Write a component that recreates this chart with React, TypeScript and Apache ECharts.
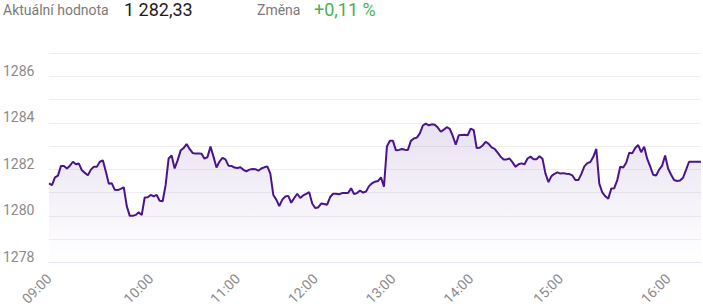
import React, { useEffect, useRef } from "react";
import * as echarts from "echarts";

const hourLabels = ["09:00", "10:00", "11:00", "12:00", "13:00", "14:00", "15:00", "16:00"];

const values09 = [
  1281.40, 1281.32, 1281.66, 1281.73, 1282.15, 1282.15, 1282.04, 1282.16, 1282.33, 1282.22,
  1282.25, 1281.96, 1281.85, 1281.75, 1281.99, 1282.11, 1282.11, 1282.33, 1282.39, 1281.91,
  1281.38, 1281.40, 1281.12, 1281.11, 1281.16, 1281.23, 1280.42, 1280.00, 1280.00, 1280.04,
  1280.15, 1280.03, 1280.79, 1280.80,
];
const values10 = [
  1280.90, 1280.84, 1280.90, 1280.65, 1280.63, 1281.33, 1282.47, 1282.60, 1282.04, 1282.39,
  1282.81, 1282.92, 1283.09, 1282.88, 1282.71, 1282.68, 1282.69, 1282.67, 1282.46, 1282.53,
  1282.98, 1282.55, 1282.08, 1282.34, 1282.50, 1282.43, 1282.16, 1282.15, 1282.08,
];
const values11 = [
  1282.06, 1282.09, 1281.98, 1281.92, 1281.99, 1282.02, 1282.01, 1281.95, 1282.04, 1282.09,
  1282.13, 1281.82, 1280.90, 1280.70, 1280.42, 1280.70, 1280.83, 1280.86, 1280.56, 1280.77,
  1280.95, 1280.77, 1280.88, 1280.95, 1281.02, 1280.53,
];
const values12 = [
  1280.34, 1280.36, 1280.53, 1280.51, 1280.48, 1280.81, 1280.95, 1280.95, 1280.93, 1280.98,
  1280.98, 1280.98, 1281.19, 1280.94, 1280.98, 1281.09, 1281.00, 1281.05, 1281.28, 1281.40,
  1281.47, 1281.50, 1281.66, 1281.26, 1283.00, 1283.23,
];
const values13 = [
  1283.23, 1282.82, 1282.84, 1282.88, 1282.85, 1282.84, 1283.23, 1283.33, 1283.37, 1283.55,
  1283.89, 1283.97, 1283.90, 1283.94, 1283.92, 1283.80, 1283.62, 1283.71, 1283.82, 1283.75,
  1283.44, 1283.06, 1283.47, 1283.48, 1283.49, 1283.47,
];
const values14 = [
  1283.76, 1283.69, 1282.92, 1282.93, 1283.03, 1283.19, 1283.10, 1282.95, 1282.88, 1282.72,
  1282.55, 1282.43, 1282.43, 1282.47, 1282.30, 1282.11, 1282.22, 1282.26, 1282.22, 1282.47,
  1282.55, 1282.44, 1282.44, 1282.57, 1282.46, 1281.82, 1281.45, 1281.71, 1281.81, 1281.87,
];
const values15 = [
  1281.82, 1281.84, 1281.81, 1281.80, 1281.74, 1281.54, 1281.54, 1281.81, 1282.13, 1282.27,
  1282.32, 1282.54, 1282.88, 1281.38, 1281.01, 1280.84, 1280.74, 1281.18, 1281.19, 1281.54,
  1282.11, 1282.08, 1282.29, 1282.72, 1282.69, 1282.92, 1283.05, 1282.74, 1282.98, 1282.46,
  1282.13, 1281.77, 1281.74, 1281.99, 1282.16, 1282.60,
];
const values16 = [
  1282.04, 1281.77, 1281.54, 1281.50, 1281.52, 1281.64, 1281.98, 1282.33, 1282.33, 1282.33,
  1282.33, 1282.33,
];

const hourSegments = [values09, values10, values11, values12, values13, values14, values15, values16];
const segmentMinutes = [60, 60, 60, 60, 60, 60, 60, 22];

const yMin = 1278;
const yMax = 1287;

const headerLabel = "Aktuální hodnota";
const headerValue = "1 282,33";
const changeLabel = "Změna";
const changeValue = "+0,11 %";

const categories: string[] = [];
const values: number[] = [];
hourSegments.forEach((seg, h) => {
  const hour = hourLabels[h].slice(0, 2);
  seg.forEach((v, j) => {
    const mm = Math.floor((j * segmentMinutes[h]) / seg.length);
    categories.push(`${hour}:${String(mm).padStart(2, "0")}`);
    values.push(v);
  });
});

const FONT = "Roboto, 'Noto Sans', sans-serif";

export default function App() {
  const ref = useRef<HTMLDivElement>(null);
  useEffect(() => {
    document.body.style.margin = "0";
    if (!ref.current) return;
    const chart = echarts.init(ref.current, null, { renderer: "svg" });
    chart.setOption({
      animation: false,
      backgroundColor: "#ffffff",
      grid: { left: 47, right: 2, top: 53.3, bottom: 41.3, containLabel: false },
      graphic: [
        { type: "text", x: 3, y: 10, style: { text: headerLabel, fill: "#7a7a7a", font: `14px ${FONT}`, textVerticalAlign: "middle", verticalAlign: "middle" } },
        { type: "text", x: 124, y: 9, style: { text: headerValue, fill: "#1c1c1c", font: `18px ${FONT}`, textVerticalAlign: "middle", verticalAlign: "middle" } },
        { type: "text", x: 257, y: 10, style: { text: changeLabel, fill: "#7a7a7a", font: `14px ${FONT}`, textVerticalAlign: "middle", verticalAlign: "middle" } },
        { type: "text", x: 314, y: 9, style: { text: changeValue, fill: "#4caf50", font: `18px ${FONT}`, textVerticalAlign: "middle", verticalAlign: "middle" } },
      ],
      xAxis: {
        type: "category",
        data: categories,
        boundaryGap: false,
        axisLine: { show: true, lineStyle: { color: "#e6e4f0", width: 1 } },
        axisTick: { show: false },
        splitLine: { show: false },
        axisLabel: {
          interval: (_idx: number, val: string) => val.endsWith(":00"),
          rotate: 45,
          margin: 14,
          color: "#8a8a8a",
          fontSize: 14,
          fontFamily: FONT,
        },
      },
      yAxis: {
        type: "value",
        min: yMin,
        max: yMax,
        interval: 1,
        axisLine: { show: false },
        axisTick: { show: false },
        splitLine: { show: true, lineStyle: { color: "#efefef", width: 1 } },
        axisLabel: {
          formatter: (v: number) => (v % 2 === 0 ? String(v) : ""),
          align: "left",
          verticalAlign: "bottom",
          lineHeight: 11,
          margin: 46,
          color: "#8a8a8a",
          fontSize: 14,
          fontFamily: FONT,
        },
      },
      series: [
        {
          type: "line",
          data: values,
          showSymbol: false,
          symbol: "none",
          smooth: false,
          lineStyle: { color: "#4a148c", width: 2 },
          itemStyle: { color: "#4a148c" },
          areaStyle: {
            color: new echarts.graphic.LinearGradient(0, 0, 0, 1, [
              { offset: 0, color: "rgba(74,20,140,0.18)" },
              { offset: 1, color: "rgba(74,20,140,0)" },
            ]),
          },
        },
      ],
    });
    return () => chart.dispose();
  }, []);
  return <div ref={ref} style={{ width: 703, height: 308 }} />;
}
